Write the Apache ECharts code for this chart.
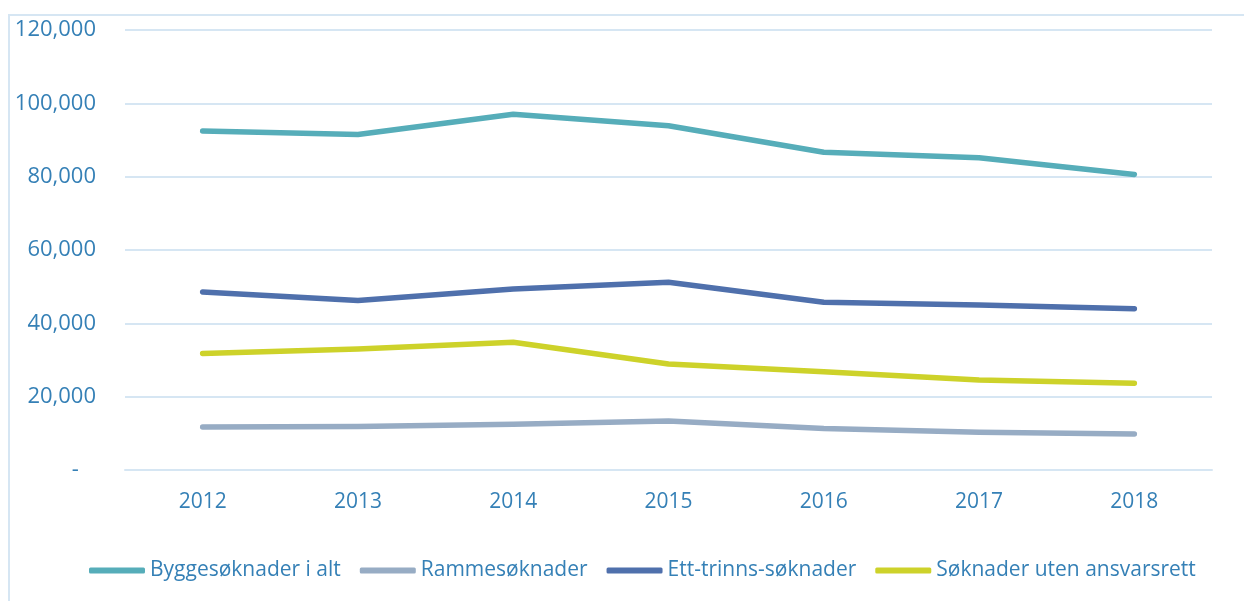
<!DOCTYPE html>
<html>
<head>
<meta charset="utf-8">
<script src="https://cdn.jsdelivr.net/npm/echarts@6/dist/echarts.min.js"></script>
<style>
  html, body { margin: 0; padding: 0; background: #fff; overflow: hidden; }
  #frame { position: absolute; left: 8px; top: 14px; width: 1400px; height: 800px;
           border-left: 2px solid #d6e6f3; border-top: 2px solid #d6e6f3; }
  #chart { position: absolute; left: 0; top: 0; width: 1244px; height: 601px; }
</style>
</head>
<body>
<div id="frame"></div>
<div id="chart"></div>
<script>
var years = ['2012', '2013', '2014', '2015', '2016', '2017', '2018'];
var byggesoknader = [92450, 91500, 97000, 93900, 86650, 85150, 80600];
var rammesoknader = [11750, 11850, 12450, 13350, 11350, 10300, 9850];
var ettTrinns = [48550, 46200, 49350, 51200, 45750, 45000, 44000];
var utenAnsvarsrett = [31800, 33000, 34850, 28900, 26800, 24550, 23650];

var textColor = '#3580b6';
var gridColor = '#d6e6f3';
var fontFamily = '"Open Sans", sans-serif';

var chart = echarts.init(document.getElementById('chart'), null, { renderer: 'canvas' });

function line(name, data, color) {
  return {
    name: name,
    type: 'line',
    data: data,
    showSymbol: false,
    symbol: 'none',
    itemStyle: { color: color },
    lineStyle: { color: color, width: 5.5, cap: 'round', join: 'round' }
  };
}

chart.setOption({
  animation: false,
  textStyle: { fontFamily: fontFamily },
  grid: { left: 125, right: 32, top: 30, bottom: 131 },
  legend: {
    bottom: 15,
    left: 84,
    itemWidth: 56,
    itemHeight: 6,
    itemGap: 19,
    icon: 'roundRect',
    textStyle: { color: textColor, fontSize: 21, fontFamily: fontFamily }
  },
  xAxis: {
    type: 'category',
    data: years,
    boundaryGap: true,
    axisLine: { show: true, lineStyle: { color: gridColor, width: 2 } },
    axisTick: { show: false },
    axisLabel: { color: textColor, fontSize: 21, margin: 22 }
  },
  yAxis: {
    type: 'value',
    min: 0,
    max: 120000,
    interval: 20000,
    axisLine: { show: false },
    axisTick: { show: false },
    splitLine: { lineStyle: { color: gridColor, width: 2 } },
    axisLabel: {
      color: textColor,
      fontSize: 22,
      margin: 29,
      formatter: function(v) {
        return v === 0 ? '-   ' : v.toLocaleString('en-US');
      }
    }
  },
  series: [
    line('Byggesøknader i alt', byggesoknader, '#56adb9'),
    line('Rammesøknader', rammesoknader, '#97acc4'),
    line('Ett-trinns-søknader', ettTrinns, '#4f70ac'),
    line('Søknader uten ansvarsrett', utenAnsvarsrett, '#cdd22a')
  ]
});
</script>
</body>
</html>
